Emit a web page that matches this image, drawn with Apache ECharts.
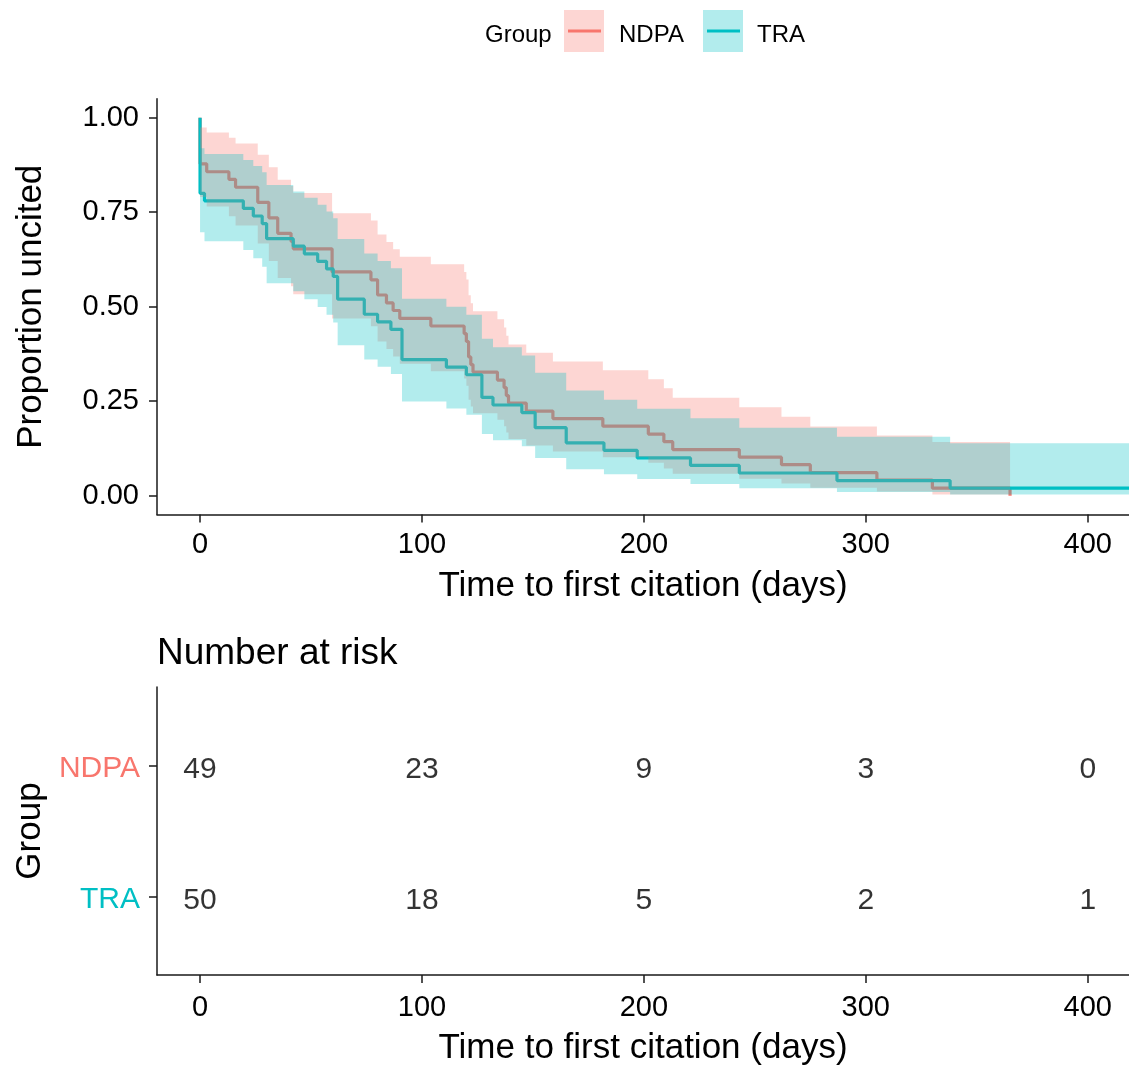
<!DOCTYPE html>
<html>
<head>
<meta charset="utf-8">
<script src="https://cdn.jsdelivr.net/npm/echarts@6/dist/echarts.min.js"></script>
<style>
html,body{margin:0;padding:0;background:#fff;}
#chart{width:1129px;height:1065px;}
</style>
</head>
<body>
<div id="chart"></div>
<script>
// ---------------- data ----------------
const groups = ['NDPA', 'TRA'];

// NDPA (n = 49): event times, survival after each event, 95% CI
const ndpaTime  = [0, 3, 13, 16, 26, 31, 35, 41, 42, 59.5, 77, 80, 84, 87, 90, 104, 119, 120, 121, 122, 123, 134, 137, 138, 139, 147, 159, 181.5, 202, 209, 213, 243, 262, 275, 305, 330];
const ndpaSurv  = [0.878, 0.857, 0.837, 0.816, 0.776, 0.735, 0.694, 0.673, 0.653, 0.592, 0.571, 0.531, 0.510, 0.490, 0.469, 0.449, 0.429, 0.408, 0.367, 0.347, 0.327, 0.306, 0.286, 0.265, 0.245, 0.224, 0.204, 0.184, 0.163, 0.143, 0.122, 0.102, 0.082, 0.061, 0.041, 0.020];
const ndpaUpper = [0.974, 0.961, 0.947, 0.932, 0.902, 0.869, 0.836, 0.819, 0.801, 0.747, 0.728, 0.691, 0.671, 0.652, 0.632, 0.612, 0.592, 0.572, 0.530, 0.509, 0.488, 0.467, 0.445, 0.423, 0.400, 0.378, 0.355, 0.332, 0.308, 0.284, 0.259, 0.234, 0.209, 0.183, 0.159, 0.142];
const ndpaLower = [0.790, 0.765, 0.739, 0.715, 0.667, 0.621, 0.576, 0.554, 0.533, 0.469, 0.448, 0.408, 0.388, 0.368, 0.349, 0.329, 0.310, 0.291, 0.254, 0.236, 0.218, 0.201, 0.184, 0.167, 0.150, 0.133, 0.117, 0.102, 0.087, 0.072, 0.058, 0.045, 0.032, 0.021, 0.011, 0.003];
const ndpaEndTime = 365;
const ndpaEndSurv = 0;

// TRA (n = 50)
const traTime  = [0, 2, 19.5, 24, 28, 30, 42, 47, 53, 57, 60, 62, 74, 80, 86, 91, 111, 120, 127, 132, 145, 151, 165, 182, 197, 221, 243, 287, 338];
const traSurv  = [0.80, 0.78, 0.76, 0.74, 0.72, 0.68, 0.66, 0.64, 0.62, 0.60, 0.58, 0.52, 0.48, 0.46, 0.44, 0.36, 0.34, 0.32, 0.26, 0.24, 0.22, 0.18, 0.14, 0.12, 0.10, 0.08, 0.06, 0.04, 0.02];
const traUpper = [0.919, 0.904, 0.888, 0.872, 0.856, 0.822, 0.805, 0.788, 0.770, 0.752, 0.734, 0.679, 0.641, 0.621, 0.602, 0.521, 0.500, 0.479, 0.415, 0.393, 0.371, 0.325, 0.278, 0.254, 0.230, 0.205, 0.180, 0.156, 0.139];
const traLower = [0.697, 0.673, 0.650, 0.628, 0.606, 0.562, 0.541, 0.520, 0.499, 0.479, 0.458, 0.398, 0.360, 0.341, 0.322, 0.249, 0.231, 0.214, 0.163, 0.147, 0.131, 0.100, 0.070, 0.057, 0.044, 0.031, 0.020, 0.010, 0.003];
const traEndTime = 420;

// Number at risk table
const riskTimes = [0, 100, 200, 300, 400];
const ndpaRisk  = [49, 23, 9, 3, 0];
const traRisk   = [50, 18, 5, 2, 1];

// axis ticks
const xTicks = [0, 100, 200, 300, 400];
const yTicks = [0, 0.25, 0.5, 0.75, 1];

// ---------------- build ----------------
const RED = '#F8766D', CYAN = '#00BFC4';
const FONT = '"Liberation Sans", Arial, sans-serif';
const AX = { color: '#1a1a1a', width: 1.5 };
const TXT = '#000';

function lineData(times, surv, endT, endS) {
  const d = [[0, 1]];
  times.forEach((t, i) => d.push([t, surv[i]]));
  d.push([endT, endS]);
  return d;
}
function bandRender(times, upper, lower, endT, fill) {
  return function (params, api) {
    const pts = [];
    const n = times.length;
    for (let i = 0; i < n; i++) {
      const t1 = i + 1 < n ? times[i + 1] : endT;
      pts.push(api.coord([times[i], upper[i]]));
      pts.push(api.coord([t1, upper[i]]));
    }
    for (let i = n - 1; i >= 0; i--) {
      const t1 = i + 1 < n ? times[i + 1] : endT;
      pts.push(api.coord([t1, lower[i]]));
      pts.push(api.coord([times[i], lower[i]]));
    }
    return { type: 'polygon', shape: { points: pts }, style: { fill: fill } };
  };
}
const riskData = [];
riskTimes.forEach((t, i) => riskData.push([t, 1, ndpaRisk[i]]));
riskTimes.forEach((t, i) => riskData.push([t, 2, traRisk[i]]));

const xAxisCommon = (gi, margin, gap) => ({
  gridIndex: gi, type: 'value', min: -19.4, max: 418.6,
  axisLine: { show: true, onZero: false, lineStyle: AX },
  axisTick: { show: true, length: 8, customValues: xTicks, lineStyle: AX },
  axisLabel: { customValues: xTicks, margin: margin, fontSize: 29, color: TXT, fontFamily: FONT },
  splitLine: { show: false },
  name: 'Time to first citation (days)', nameLocation: 'middle', nameGap: gap,
  nameTextStyle: { fontSize: 35, color: TXT, fontFamily: FONT }
});

const chart = echarts.init(document.getElementById('chart'), null, { renderer: 'canvas' });
chart.setOption({
  animation: false,
  backgroundColor: '#fff',
  textStyle: { fontFamily: FONT },
  grid: [
    { left: 157, right: 0, top: 98.8, height: 415.8, outerBoundsMode: 'none' },
    { left: 157, right: 0, top: 687, height: 288, outerBoundsMode: 'none' }
  ],
  xAxis: [xAxisCommon(0, 16, 54), xAxisCommon(1, 18, 56)],
  yAxis: [
    {
      gridIndex: 0, type: 'value', min: -0.05, max: 1.05,
      axisLine: { show: true, onZero: false, lineStyle: AX },
      axisTick: { show: true, length: 8, customValues: yTicks, lineStyle: AX },
      axisLabel: { customValues: yTicks, margin: 18, fontSize: 29, color: TXT, fontFamily: FONT,
                   formatter: v => Number(v).toFixed(2) },
      splitLine: { show: false },
      name: 'Proportion uncited', nameLocation: 'middle', nameGap: 108,
      nameTextStyle: { fontSize: 35, color: TXT, fontFamily: FONT }
    },
    {
      gridIndex: 1, type: 'value', min: 0.4, max: 2.6, inverse: true,
      axisLine: { show: true, onZero: false, lineStyle: AX },
      axisTick: { show: true, length: 8, customValues: [1, 2], lineStyle: AX },
      axisLabel: { customValues: [1, 2], margin: 17, fontSize: 30, fontFamily: FONT,
                   formatter: v => (Math.round(v) === 1 ? '{a|' + groups[0] + '}' : '{b|' + groups[1] + '}'),
                   rich: { a: { color: RED, fontSize: 30, fontFamily: FONT, padding: [6, 0, 0, 0] },
                           b: { color: CYAN, fontSize: 30, fontFamily: FONT, padding: [6, 0, 0, 0] } } },
      splitLine: { show: false },
      name: 'Group', nameLocation: 'middle', nameGap: 108,
      nameTextStyle: { fontSize: 35, color: TXT, fontFamily: FONT }
    }
  ],
  series: [
    { name: groups[0], type: 'line', xAxisIndex: 0, yAxisIndex: 0, step: 'end', showSymbol: false, z: 2,
      data: lineData(ndpaTime, ndpaSurv, ndpaEndTime, ndpaEndSurv),
      lineStyle: { color: RED, width: 3.2 }, itemStyle: { color: RED } },
    { name: groups[1], type: 'line', xAxisIndex: 0, yAxisIndex: 0, step: 'end', showSymbol: false, z: 2,
      data: lineData(traTime, traSurv, traEndTime, traSurv[traSurv.length - 1]),
      lineStyle: { color: CYAN, width: 3.2 }, itemStyle: { color: CYAN } },
    { type: 'custom', xAxisIndex: 0, yAxisIndex: 0, z: 3, clip: true, silent: true,
      data: [[0, 0]], renderItem: bandRender(ndpaTime, ndpaUpper, ndpaLower, ndpaEndTime, 'rgba(248,118,109,0.3)') },
    { type: 'custom', xAxisIndex: 0, yAxisIndex: 0, z: 4, clip: true, silent: true,
      data: [[0, 0]], renderItem: bandRender(traTime, traUpper, traLower, traEndTime, 'rgba(0,191,196,0.3)') },
    { type: 'scatter', xAxisIndex: 1, yAxisIndex: 1, symbolSize: 1, silent: true,
      itemStyle: { color: 'rgba(0,0,0,0)' },
      label: { show: true, position: 'inside', offset: [0, 4], formatter: p => String(p.value[2]),
               fontSize: 30, color: '#000', textBorderWidth: 0, textBorderColor: 'transparent', fontFamily: FONT },
      data: riskData }
  ],
  graphic: [
    { type: 'text', left: 485, top: 23, style: { text: 'Group', font: '24px ' + FONT, fill: TXT } },
    { type: 'rect', shape: { x: 564, y: 10, width: 40, height: 42 }, style: { fill: 'rgba(248,118,109,0.3)' } },
    { type: 'line', shape: { x1: 568, y1: 31, x2: 601, y2: 31 }, style: { stroke: RED, lineWidth: 3 } },
    { type: 'text', left: 619, top: 23, style: { text: groups[0], font: '24px ' + FONT, fill: TXT } },
    { type: 'rect', shape: { x: 703, y: 10, width: 40, height: 42 }, style: { fill: 'rgba(0,191,196,0.3)' } },
    { type: 'line', shape: { x1: 707, y1: 31, x2: 740, y2: 31 }, style: { stroke: CYAN, lineWidth: 3 } },
    { type: 'text', left: 757, top: 23, style: { text: groups[1], font: '24px ' + FONT, fill: TXT } },
    { type: 'text', left: 157, top: 635, style: { text: 'Number at risk', font: '37px ' + FONT, fill: TXT } }
  ]
});
</script>
</body>
</html>
